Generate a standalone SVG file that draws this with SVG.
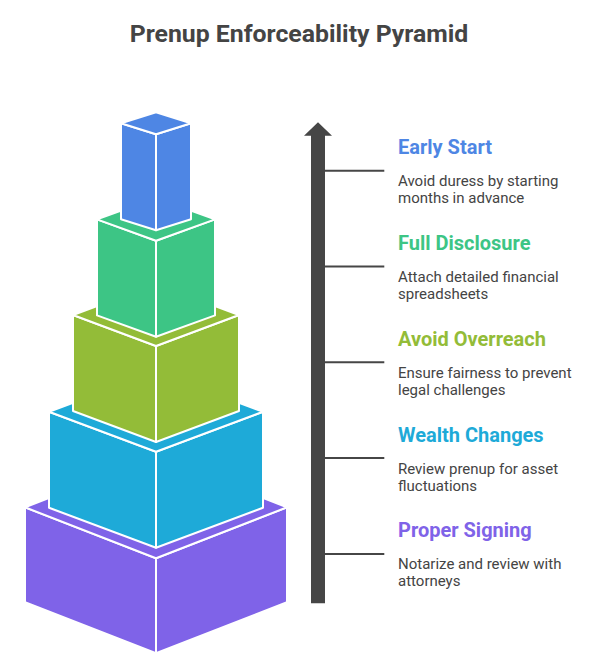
<svg xmlns="http://www.w3.org/2000/svg" width="598" height="666" viewBox="0 0 598 666">
<style>
.face{stroke:#ffffff;stroke-width:2;stroke-linejoin:round}
.title{font-family:Roboto,"Liberation Sans",sans-serif;font-weight:bold;font-size:24.8px;fill:#444444}
.h{font-family:Roboto,"Liberation Sans",sans-serif;font-weight:bold;font-size:20px}
.d{font-family:Roboto,"Liberation Sans",sans-serif;font-size:15px;fill:#444444}
.conn{stroke:#464646;stroke-width:2;fill:none}
</style>
<rect width="598" height="666" fill="#ffffff"/>
<text class="title" x="299" y="41.7" text-anchor="middle">Prenup Enforceability Pyramid</text>

<g id="level-proper-signing" fill="#7F63E8">
<polygon class="face" points="25,507.3 156,558.3 156,653.3 25,602.3"/>
<polygon class="face" points="156,558.3 287,507.3 287,602.3 156,653.3"/>
<polygon class="face" points="156,456.3 287,507.3 156,558.3 25,507.3"/>
</g>
<g id="level-wealth-changes" fill="#1EAAD8">
<polygon class="face" points="49,411.7 156,451.7 156,547.7 49,507.7"/>
<polygon class="face" points="156,451.7 263,411.7 263,507.7 156,547.7"/>
<polygon class="face" points="156,371.7 263,411.7 156,451.7 49,411.7"/>
</g>
<g id="level-avoid-overreach" fill="#93BC38">
<polygon class="face" points="73,315 156,346 156,442 73,411"/>
<polygon class="face" points="156,346 239,315 239,411 156,442"/>
<polygon class="face" points="156,284 239,315 156,346 73,315"/>
</g>
<g id="level-full-disclosure" fill="#3DC585">
<polygon class="face" points="97,219.4 156,240.7 156,336.7 97,315.4"/>
<polygon class="face" points="156,240.7 215,219.4 215,315.4 156,336.7"/>
<polygon class="face" points="156,198.1 215,219.4 156,240.7 97,219.4"/>
</g>
<g id="level-early-start" fill="#4E86E4">
<polygon class="face" points="121,123.3 156,134.3 156,230.3 121,219.3"/>
<polygon class="face" points="156,134.3 191,123.3 191,219.3 156,230.3"/>
<polygon class="face" points="156,112.3 191,123.3 156,134.3 121,123.3"/>
</g>

<g id="arrow">
<polygon points="318,122.3 332,135.7 325,135.7 325,603.3 311,603.3 311,135.7 304,135.7" fill="#464646"/>
</g>

<g id="connectors">
<line class="conn" x1="325" y1="170.7" x2="384.3" y2="170.7"/>
<line class="conn" x1="325" y1="266.5" x2="384.3" y2="266.5"/>
<line class="conn" x1="325" y1="362.3" x2="384.3" y2="362.3"/>
<line class="conn" x1="325" y1="458.1" x2="384.3" y2="458.1"/>
<line class="conn" x1="325" y1="553.9" x2="384.3" y2="553.9"/>
</g>

<g id="label-early-start">
<text class="h" x="398" y="154" fill="#4E86E4">Early Start</text>
<text class="d" x="398" y="186">Avoid duress by starting</text>
<text class="d" x="398" y="203">months in advance</text>
</g>
<g id="label-full-disclosure">
<text class="h" x="398" y="250" fill="#3DC585">Full Disclosure</text>
<text class="d" x="398" y="282">Attach detailed financial</text>
<text class="d" x="398" y="299">spreadsheets</text>
</g>
<g id="label-avoid-overreach">
<text class="h" x="398" y="345.8" fill="#93BC38">Avoid Overreach</text>
<text class="d" x="398" y="377.8">Ensure fairness to prevent</text>
<text class="d" x="398" y="394.8">legal challenges</text>
</g>
<g id="label-wealth-changes">
<text class="h" x="398" y="441.6" fill="#1EAAD8">Wealth Changes</text>
<text class="d" x="398" y="473.6">Review prenup for asset</text>
<text class="d" x="398" y="490.6">fluctuations</text>
</g>
<g id="label-proper-signing">
<text class="h" x="398" y="537.4" fill="#7F63E8">Proper Signing</text>
<text class="d" x="398" y="569.4">Notarize and review with</text>
<text class="d" x="398" y="586.4">attorneys</text>
</g>
</svg>
